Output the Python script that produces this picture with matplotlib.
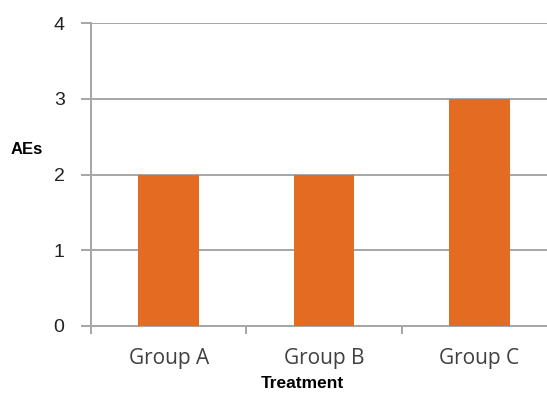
import matplotlib
matplotlib.use("Agg")
import matplotlib.pyplot as plt

groups = ["Group A", "Group B", "Group C"]
aes = [2, 2, 3]
yticks = [0, 1, 2, 3, 4]

grid_col = "#a6a6a6"
bar_col = "#e46c22"

fig = plt.figure(figsize=(5.47, 3.94), dpi=100)
ax = fig.add_axes([91 / 547, (394 - 326) / 394, 466 / 547, 303 / 394])

x = range(len(groups))
ax.bar(x, aes, width=0.39, color=bar_col, zorder=3)

ax.set_xlim(-0.5, 2.5)
ax.set_ylim(0, 4)
ax.set_yticks(yticks)
ax.set_yticklabels([str(t) for t in yticks], fontsize=14, color="#222222",
                   family="Liberation Sans")
ax.yaxis.grid(True, color=grid_col, linewidth=1.4, zorder=0)
ax.tick_params(axis="y", length=7, width=1.4, color=grid_col, pad=12)

# category labels sit between boundary ticks
ax.set_xticks([-0.5, 0.5, 1.5, 2.5])
ax.set_xticklabels([])
ax.tick_params(axis="x", length=6, width=1.4, color=grid_col, direction="out")
for i, g in enumerate(groups):
    ax.text(i, -0.43, g, ha="center", va="center", fontsize=15,
            color="#404040", family="Open Sans")

for s in ["top", "right"]:
    ax.spines[s].set_visible(False)
for s in ["left", "bottom"]:
    ax.spines[s].set_color(grid_col)
    ax.spines[s].set_linewidth(1.4)

fig.text(27 / 547, 1 - 150 / 394, "AEs", ha="center", va="center",
         fontsize=12, fontweight="bold", family="Liberation Sans")
fig.text(302 / 547, 1 - 384 / 394, "Treatment", ha="center", va="center",
         fontsize=12.5, fontweight="bold", family="Liberation Sans")

fig.savefig("out.png", dpi=100)
